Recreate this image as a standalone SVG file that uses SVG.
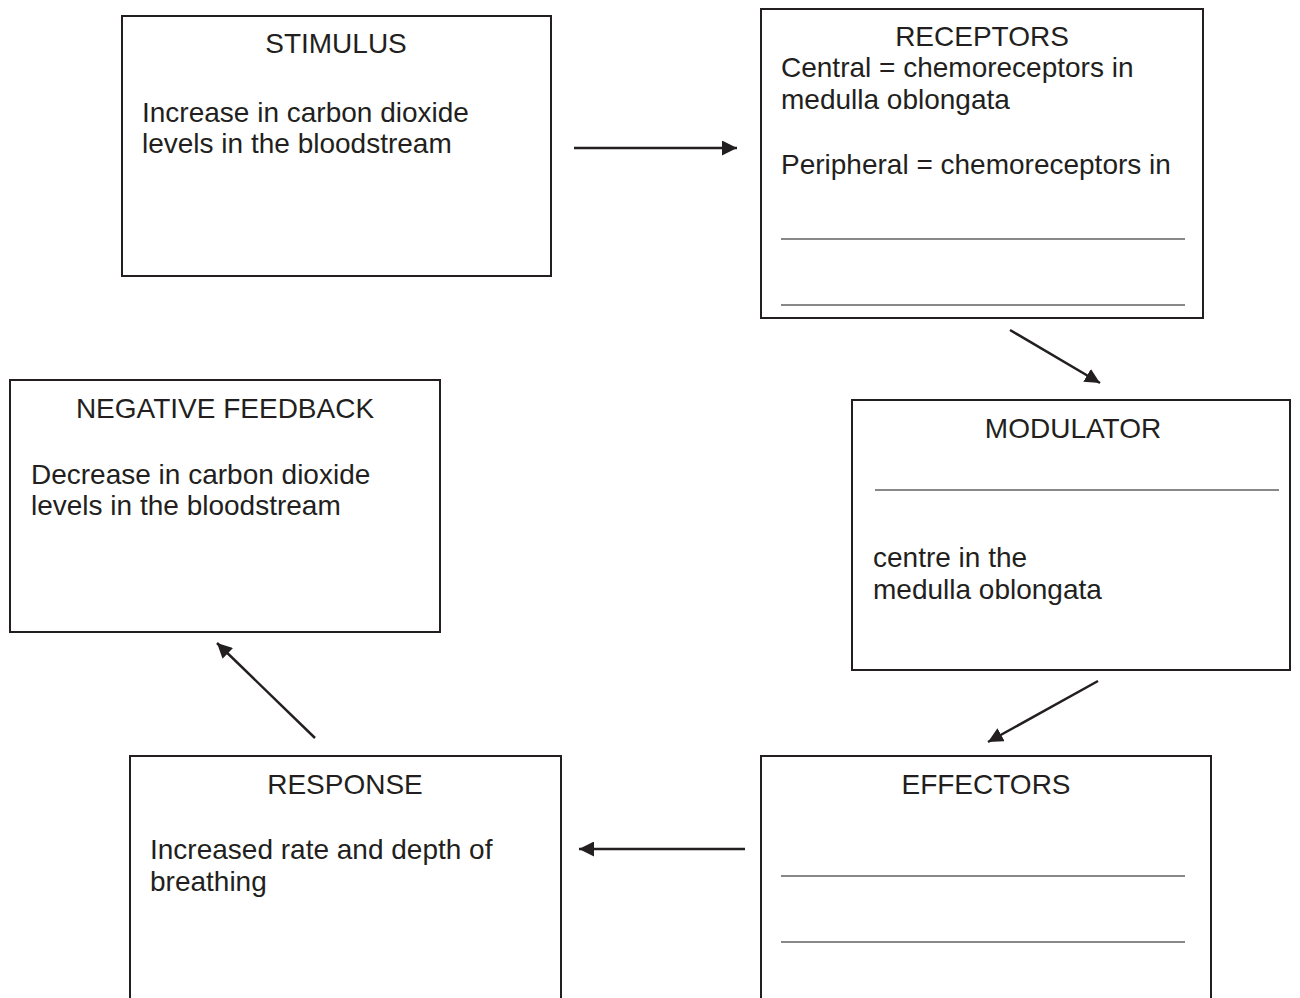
<svg xmlns="http://www.w3.org/2000/svg" width="1300" height="998" viewBox="0 0 1300 998">
<defs>
<style>
.box{fill:#fff;stroke:#231f20;stroke-width:2}
.rule{stroke:#888;stroke-width:2}
.t{font-family:"Liberation Sans",Arial,sans-serif;font-size:28px;fill:#231f20}
.c{text-anchor:middle}
.conn{stroke:#231f20;stroke-width:2.5;fill:none;marker-end:url(#ah)}
</style>
<marker id="ah" viewBox="0 0 10 10" refX="10" refY="5" markerWidth="6" markerHeight="6" orient="auto" markerUnits="strokeWidth">
<path d="M0,0 L10,5 L0,10 z" fill="#231f20"/>
</marker>
</defs>
<rect width="1300" height="998" fill="#fff"/>
<g id="stimulus">
<rect class="box" x="122" y="16" width="429" height="260"/>
<text class="t c" x="336" y="53">STIMULUS</text>
<text class="t" x="142" y="122">Increase in carbon dioxide</text>
<text class="t" x="142" y="153">levels in the bloodstream</text>
</g>
<g id="receptors">
<rect class="box" x="761" y="9" width="442" height="309"/>
<text class="t c" x="982" y="46">RECEPTORS</text>
<text class="t" x="781" y="77">Central = chemoreceptors in</text>
<text class="t" x="781" y="109">medulla oblongata</text>
<text class="t" x="781" y="174">Peripheral = chemoreceptors in</text>
<line class="rule" x1="781" y1="239" x2="1185" y2="239"/>
<line class="rule" x1="781" y1="305" x2="1185" y2="305"/>
</g>
<g id="negative-feedback">
<rect class="box" x="10" y="380" width="430" height="252"/>
<text class="t c" x="225" y="418">NEGATIVE FEEDBACK</text>
<text class="t" x="31" y="484">Decrease in carbon dioxide</text>
<text class="t" x="31" y="515">levels in the bloodstream</text>
</g>
<g id="modulator">
<rect class="box" x="852" y="400" width="438" height="270"/>
<text class="t c" x="1073" y="438">MODULATOR</text>
<line class="rule" x1="875" y1="490" x2="1279" y2="490"/>
<text class="t" x="873" y="567">centre in the</text>
<text class="t" x="873" y="599">medulla oblongata</text>
</g>
<g id="response">
<rect class="box" x="130" y="756" width="431" height="260"/>
<text class="t c" x="345" y="794">RESPONSE</text>
<text class="t" x="150" y="859">Increased rate and depth of</text>
<text class="t" x="150" y="891">breathing</text>
</g>
<g id="effectors">
<rect class="box" x="761" y="756" width="450" height="260"/>
<text class="t c" x="986" y="794">EFFECTORS</text>
<line class="rule" x1="781" y1="876" x2="1185" y2="876"/>
<line class="rule" x1="781" y1="942" x2="1185" y2="942"/>
</g>
<g id="connectors">
<line class="conn" x1="574" y1="148" x2="737" y2="148"/>
<line class="conn" x1="1010" y1="330" x2="1100" y2="383"/>
<line class="conn" x1="1098" y1="681" x2="988" y2="742"/>
<line class="conn" x1="745" y1="849" x2="579" y2="849"/>
<line class="conn" x1="315" y1="738" x2="217" y2="643"/>
</g>
</svg>
